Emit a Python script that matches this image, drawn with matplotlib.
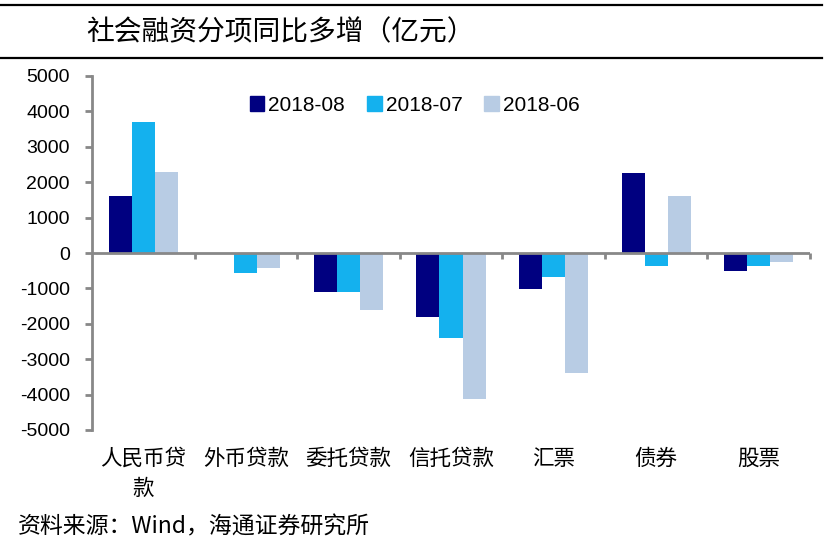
import matplotlib
matplotlib.use("Agg")
import matplotlib.pyplot as plt
import numpy as np
from matplotlib.lines import Line2D

plt.rcParams['font.family'] = ['Liberation Sans', 'Noto Sans CJK SC', 'DejaVu Sans']

categories = ["人民币贷\n款", "外币贷款", "委托贷款", "信托贷款", "汇票", "债券", "股票"]
series_names = ["2018-08", "2018-07", "2018-06"]
v_2018_08 = [1600, 0, -1090, -1810, -1030, 2250, -500]
v_2018_07 = [3700, -560, -1100, -2400, -690, -380, -380]
v_2018_06 = [2300, -430, -1620, -4120, -3390, 1600, -250]
colors = ["#000080", "#14B1EE", "#B8CCE4"]
yticks = [5000, 4000, 3000, 2000, 1000, 0, -1000, -2000, -3000, -4000, -5000]

W, H = 834, 544
fig = plt.figure(figsize=(W / 100, H / 100), dpi=100)
ax = fig.add_axes([92 / W, 1 - 430 / H, (810 - 92) / W, (430 - 76) / H])

x = np.arange(len(categories))
bw = 0.225
for i, (vals, c, n) in enumerate(zip([v_2018_08, v_2018_07, v_2018_06], colors, series_names)):
    ax.bar(x + (i - 1) * bw, vals, width=bw, color=c, label=n, zorder=2)

ax.set_xlim(-0.5, len(categories) - 0.5)
ax.set_ylim(-5000, 5000)
ax.set_yticks(yticks)
ax.set_yticklabels([str(t) for t in yticks], fontsize=14, fontfamily='Liberation Sans')

for s in ["top", "right", "bottom"]:
    ax.spines[s].set_visible(False)
ax.spines["left"].set_color("#888888")
ax.spines["left"].set_linewidth(2)
ax.tick_params(axis='y', length=5, width=2, color="#888888", pad=11, labelcolor="black")

# zero axis line with category-boundary ticks
ax.axhline(0, color="#888888", lw=2, zorder=3)
ax.set_xticks([])
for b in np.arange(0.5, len(categories), 1.0):
    ax.plot([b, b], [0, -180], color="#888888", lw=2, zorder=3, clip_on=False, solid_capstyle='butt')

# category labels
for xi, lab in zip(x, categories):
    ax.text(xi, -5500, lab, ha='center', va='top', fontsize=15.5,
            fontfamily=['Noto Sans CJK SC'], linespacing=1.5)

# legend
handles = [plt.Rectangle((0, 0), 1, 1, color=c) for c in colors]
leg = ax.legend(handles, series_names, loc='upper left', bbox_to_anchor=(0.208, 0.968),
                ncol=3, frameon=False, fontsize=15, handlelength=0.7, handleheight=0.7,
                handletextpad=0.2, columnspacing=1.05, borderaxespad=0)

# title and rules
fig.add_artist(Line2D([0, 822 / W], [1 - 5 / H, 1 - 5 / H], color="black", lw=1.6))
fig.add_artist(Line2D([0, 822 / W], [1 - 58 / H, 1 - 58 / H], color="black", lw=1.6))
fig.text(86 / W, 1 - 32 / H, "社会融资分项同比多增（亿元）", fontsize=20,
         fontfamily=['Noto Sans CJK SC'], ha='left', va='center')
fig.text(18 / W, 1 - 527 / H, "资料来源：Wind，海通证券研究所", fontsize=16.5,
         fontfamily=['Noto Sans CJK SC', 'DejaVu Sans'], ha='left', va='center')

fig.savefig("out.png", dpi=100)
